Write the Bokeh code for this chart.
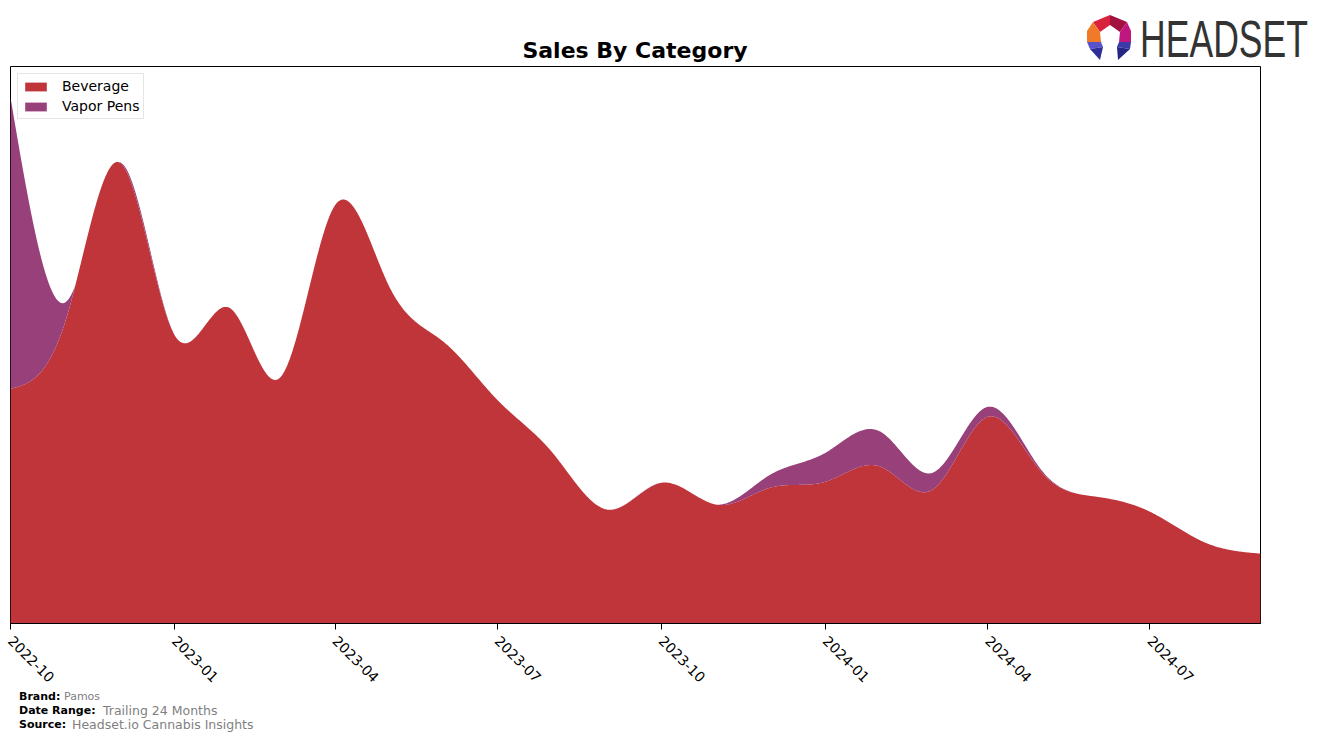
import math
import numpy as np
import pandas as pd
from bokeh.plotting import figure
from bokeh.layouts import column
from bokeh.models import ColumnDataSource, Range1d, FixedTicker, DatetimeTickFormatter, Div
from bokeh.embed import file_html
from bokeh.resources import INLINE

# ---------------- data ----------------
months = ["2022-10", "2022-11", "2022-12", "2023-01", "2023-02", "2023-03",
          "2023-04", "2023-05", "2023-06", "2023-07", "2023-08", "2023-09",
          "2023-10", "2023-11", "2023-12", "2024-01", "2024-02", "2024-03",
          "2024-04", "2024-05", "2024-06", "2024-07", "2024-08", "2024-09"]
beverage = [235, 304, 462, 289, 316, 246, 419, 339, 282, 224, 171, 114,
            141, 119, 136, 142, 157, 134, 207, 152, 127, 112, 81, 70]
vapor_pens = [292, 18, 0, 0, 0, 0, 0, 0, 0, 0, 0, 0,
              0, 0, 13, 29, 35, 17, 10, 2, 0, 0, 0, 0]
tick_labels = ["2022-10", "2023-01", "2023-04", "2023-07", "2023-10",
               "2024-01", "2024-04", "2024-07"]
title_text = "Sales By Category"
logo_text = "HEADSET"
footer_keys = ["Brand:", "Date Range:", "Source:"]
footer_vals = ["Pamos", "Trailing 24 Months", "Headset.io Cannabis Insights"]

BEV_COLOR = "#c0353a"
VAP_COLOR = "#974079"
W = 1324


def spline(x, y, xs):
    """Natural cubic spline evaluated at xs, used to draw smooth areas."""
    x = np.asarray(x, float)
    y = np.asarray(y, float)
    n = len(x)
    h = np.diff(x)
    A = np.zeros((n, n))
    b = np.zeros(n)
    A[0, 0] = 1.0
    A[n - 1, n - 1] = 1.0
    for i in range(1, n - 1):
        A[i, i - 1] = h[i - 1]
        A[i, i] = 2 * (h[i - 1] + h[i])
        A[i, i + 1] = h[i]
        b[i] = 6 * ((y[i + 1] - y[i]) / h[i] - (y[i] - y[i - 1]) / h[i - 1])
    M = np.linalg.solve(A, b)
    idx = np.clip(np.searchsorted(x, xs, side="right") - 1, 0, n - 2)
    hi = h[idx]
    t0 = x[idx + 1] - xs
    t1 = xs - x[idx]
    return (M[idx] * t0 ** 3 / (6 * hi) + M[idx + 1] * t1 ** 3 / (6 * hi)
            + (y[idx] / hi - M[idx] * hi / 6) * t0
            + (y[idx + 1] / hi - M[idx + 1] * hi / 6) * t1)


dates = pd.to_datetime([m + "-01" for m in months])
ms = np.asarray(dates.astype("int64") // 10 ** 6, dtype=float)
xs = np.linspace(ms[0], ms[-1], 1500)
bev_s = np.clip(spline(ms, beverage, xs), 0, None)
vap_s = np.clip(spline(ms, vapor_pens, xs), 0, None)
src = ColumnDataSource(dict(x=xs, zero=np.zeros_like(xs), bev=bev_s, tot=bev_s + vap_s))

# ---------------- header (title + logo) ----------------
logo_polys = [
    ("1093,22 1110,15 1110,25 1100,32", "#d9223b"),
    ("1110,15 1127,22 1120,32 1110,25", "#a3123f"),
    ("1127,22 1131,31 1131,42 1119,42 1120,32", "#c0177e"),
    ("1093,22 1100,32 1101,42 1087,42 1087,31", "#f07a28"),
    ("1087,42 1101,42 1103,47 1090,49", "#5a52cc"),
    ("1090,49 1103,47 1100,60", "#2e2e9a"),
    ("1131,42 1119,42 1117,47 1130,49", "#3a3aa8"),
    ("1130,49 1117,47 1118,60", "#252585"),
]
poly_svg = "".join(f'<polygon points="{pts}" fill="{c}"/>' for pts, c in logo_polys)
header_html = (
    f'<div style="position:relative;width:{W}px;height:65px;margin:0;padding:0;overflow:visible;">'
    f'<div style="position:absolute;left:0;top:39px;width:1270px;text-align:center;'
    f'font-family:\'DejaVu Sans\';font-weight:bold;font-size:22px;line-height:24px;'
    f'color:black;white-space:nowrap;">{title_text}</div>'
    f'<svg style="position:absolute;left:0;top:0;overflow:visible;" width="{W}" height="80">'
    f'{poly_svg}'
    f'<g transform="translate(1140,57) scale(1,1.5)">'
    f'<text x="0" y="0" font-family="DejaVu Sans" font-size="35" '
    f'textLength="168" lengthAdjust="spacingAndGlyphs" '
    f'fill="#333333">{logo_text}</text></g></svg></div>'
)
header = Div(text=header_html, width=W, height=65, margin=0)

# ---------------- main chart ----------------
p = figure(width=W, height=624, x_axis_type="datetime",
           output_backend="svg", toolbar_location=None,
           min_border_left=10, min_border_right=64, min_border_top=1,
           min_border_bottom=65,
           x_range=Range1d(ms[0], ms[-1]), y_range=Range1d(0, 558))
p.background_fill_color = "white"
p.border_fill_color = "white"
p.border_fill_alpha = 0
p.outline_line_color = "black"
p.outline_line_width = 1
p.xgrid.visible = False
p.ygrid.visible = False
p.yaxis.visible = False

p.varea(x="x", y1="zero", y2="bev", source=src, fill_color=BEV_COLOR,
        legend_label="Beverage")
p.varea(x="x", y1="bev", y2="tot", source=src, fill_color=VAP_COLOR,
        legend_label="Vapor Pens")

tick_ms = [float(pd.Timestamp(t + "-01").value // 10 ** 6) for t in tick_labels]
xa = p.xaxis[0]
xa.ticker = FixedTicker(ticks=tick_ms)
xa.formatter = DatetimeTickFormatter(months="%Y-%m", days="%Y-%m", years="%Y-%m")
xa.major_label_orientation = -math.pi / 4
xa.major_label_text_font = "DejaVu Sans"
xa.major_label_text_font_size = "14px"
xa.major_label_text_color = "black"
xa.axis_line_color = "black"
xa.major_tick_line_color = "black"
xa.major_tick_out = 6
xa.major_tick_in = 0
xa.minor_tick_line_color = None
xa.major_label_standoff = 9

lg = p.legend[0]
lg.location = "top_left"
lg.margin = 7
lg.padding = 4
lg.spacing = 4
lg.glyph_width = 27
lg.glyph_height = 11
lg.label_standoff = 13
lg.label_text_font = "DejaVu Sans"
lg.label_text_font_size = "14px"
lg.label_text_color = "black"
lg.border_line_color = "#cccccc"
lg.border_line_width = 1
lg.background_fill_alpha = 0.9

# ---------------- footer ----------------
FOOT_TOP = 689
rows = []
for i, (k, v) in enumerate(zip(footer_keys, footer_vals)):
    cy = [697, 711, 725][i] - FOOT_TOP
    vx = [64, 103, 72][i]
    vs = ["11px", "12.5px", "12.5px"][i]
    rows.append(
        f'<div style="position:absolute;left:19px;top:{cy - 7}px;line-height:14px;'
        f'font-family:\'DejaVu Sans\';font-size:11px;font-weight:bold;color:black;'
        f'white-space:nowrap;">{k}</div>'
        f'<div style="position:absolute;left:{vx}px;top:{cy - 7}px;line-height:14px;'
        f'font-family:\'DejaVu Sans\';font-size:{vs};color:#808080;'
        f'white-space:nowrap;">{v}</div>')
footer_html = (f'<div style="position:relative;width:{W}px;height:{742 - FOOT_TOP}px;">'
               + "".join(rows) + '</div>')
footer = Div(text=footer_html, width=W, height=742 - FOOT_TOP, margin=0)

lay = column(header, p, footer, spacing=0)
open("out.html", "w").write(file_html(lay, INLINE))
